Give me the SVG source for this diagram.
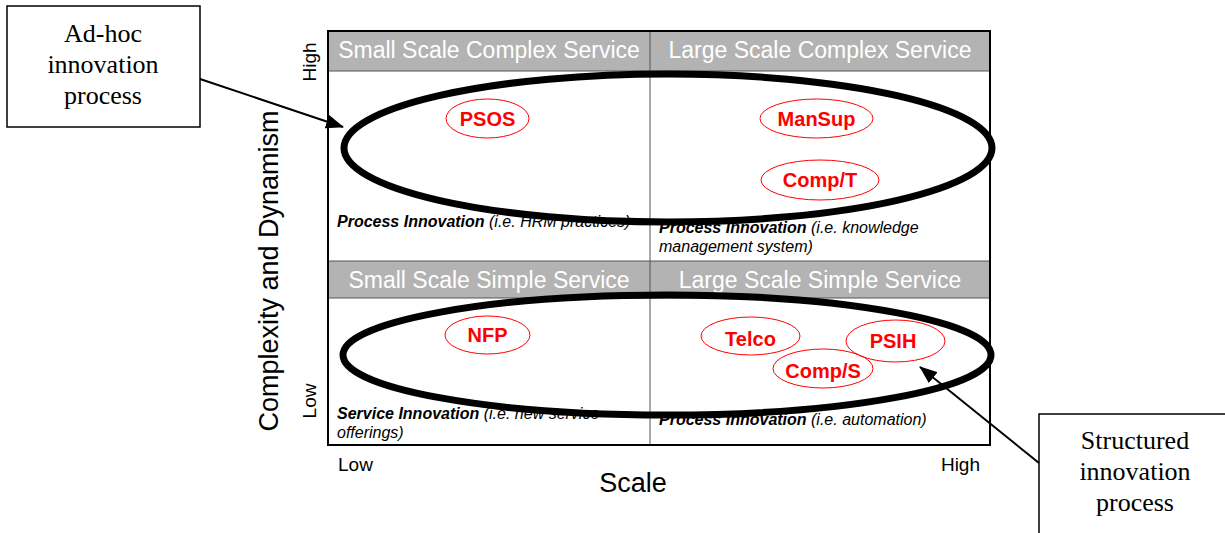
<svg xmlns="http://www.w3.org/2000/svg" width="1225" height="533" viewBox="0 0 1225 533">
<style>
.hdr{font-family:"Liberation Sans",Arial,sans-serif;font-size:23px;fill:#ffffff;text-anchor:middle}
.lbl{font-family:"Liberation Sans",Arial,sans-serif;font-size:20px;font-weight:bold;fill:#ff0000;text-anchor:middle}
.oval{fill:none;stroke:#ff0000;stroke-width:1}
.note{font-family:"Liberation Sans",Arial,sans-serif;font-size:16px;font-style:italic;fill:#000}
.b{font-weight:bold}
.ax{font-family:"Liberation Sans",Arial,sans-serif;fill:#000}
.call{font-family:"Liberation Serif","Times New Roman",serif;font-size:26px;fill:#000;text-anchor:middle}
.big{fill:none;stroke:#000;stroke-width:7}
.box{fill:#fff;stroke:#000;stroke-width:1.5}
</style>
<defs>
<marker id="ah" markerWidth="18" markerHeight="14" refX="17" refY="7" orient="auto" markerUnits="userSpaceOnUse">
<path d="M0,0 L18,7 L0,14 z" fill="#000"/>
</marker>
</defs>
<rect width="1225" height="533" fill="#fff"/>
<g id="matrix">
<rect x="328" y="31" width="662" height="40" fill="#b3b3b3"/>
<rect x="328" y="261" width="662" height="37" fill="#b3b3b3"/>
<line x1="328" y1="71" x2="990" y2="71" stroke="#555" stroke-width="1"/>
<line x1="328" y1="261" x2="990" y2="261" stroke="#555" stroke-width="1"/>
<line x1="328" y1="298" x2="990" y2="298" stroke="#555" stroke-width="1"/>
<line x1="650" y1="31" x2="650" y2="445" stroke="#555" stroke-width="1"/>
<rect x="328" y="31" width="662" height="414" fill="none" stroke="#000" stroke-width="2"/>
</g>
<g id="q-ssc">
<text class="hdr" x="489" y="58">Small Scale Complex Service</text>
<text class="note" x="337" y="227"><tspan class="b">Process Innovation</tspan> (i.e. HRM practices)</text>
</g>
<g id="q-lsc">
<text class="hdr" x="820" y="58">Large Scale Complex Service</text>
<text class="note" x="659" y="233"><tspan class="b">Process Innovation</tspan> (i.e. knowledge</text>
<text class="note" x="659" y="252">management system)</text>
</g>
<g id="q-sss">
<text class="hdr" x="489" y="288">Small Scale Simple Service</text>
<text class="note" x="337" y="419"><tspan class="b">Service Innovation</tspan> (i.e. new service</text>
<text class="note" x="337" y="438">offerings)</text>
</g>
<g id="q-lss">
<text class="hdr" x="820" y="288">Large Scale Simple Service</text>
<text class="note" x="659" y="425"><tspan class="b">Process Innovation</tspan> (i.e. automation)</text>
</g>
<g id="psos"><ellipse class="oval" cx="487.5" cy="118.5" rx="41.5" ry="19.5"/><text class="lbl" x="487.5" y="126">PSOS</text></g>
<g id="mansup"><ellipse class="oval" cx="816.5" cy="118.5" rx="56.5" ry="19.5"/><text class="lbl" x="816.5" y="126">ManSup</text></g>
<g id="compt"><ellipse class="oval" cx="820" cy="180" rx="59" ry="20"/><text class="lbl" x="820" y="187">Comp/T</text></g>
<g id="nfp"><ellipse class="oval" cx="487.5" cy="335" rx="42.5" ry="19"/><text class="lbl" x="487.5" y="342">NFP</text></g>
<g id="telco"><ellipse class="oval" cx="750.5" cy="336" rx="49.5" ry="19"/><text class="lbl" x="750.5" y="346">Telco</text></g>
<g id="psih"><ellipse class="oval" cx="895.5" cy="341" rx="49.5" ry="21"/><text class="lbl" x="893" y="348">PSIH</text></g>
<g id="comps"><ellipse class="oval" cx="823" cy="368.5" rx="50" ry="19.5"/><text class="lbl" x="823" y="378">Comp/S</text></g>
<g id="axes">
<text class="ax" font-size="19" transform="translate(316,62) rotate(-90)" text-anchor="middle">High</text>
<text class="ax" font-size="19" transform="translate(316,401) rotate(-90)" text-anchor="middle">Low</text>
<text class="ax" font-size="27" transform="translate(278,271) rotate(-90)" text-anchor="middle">Complexity and Dynamism</text>
<text class="ax" font-size="19" x="338" y="471">Low</text>
<text class="ax" font-size="19" x="980" y="471" text-anchor="end">High</text>
<text class="ax" font-size="27" x="633" y="492" text-anchor="middle">Scale</text>
</g>
<g id="adhoc-ellipse"><ellipse class="big" cx="668" cy="148" rx="324" ry="74"/></g>
<g id="structured-ellipse"><ellipse class="big" cx="667" cy="355" rx="324" ry="60"/></g>
<g id="callout-adhoc">
<rect class="box" x="7" y="6" width="193" height="121"/>
<text class="call" x="103" y="42">Ad-hoc</text>
<text class="call" x="103" y="73">innovation</text>
<text class="call" x="103" y="104">process</text>
</g>
<g id="callout-structured">
<rect class="box" x="1039" y="414" width="190" height="130"/>
<text class="call" x="1135" y="449">Structured</text>
<text class="call" x="1135" y="480">innovation</text>
<text class="call" x="1135" y="511">process</text>
</g>
<g id="connectors">
<line x1="200" y1="79" x2="343" y2="127" stroke="#000" stroke-width="2" marker-end="url(#ah)"/>
<line x1="1039" y1="463" x2="920" y2="367" stroke="#000" stroke-width="2" marker-end="url(#ah)"/>
</g>
</svg>
